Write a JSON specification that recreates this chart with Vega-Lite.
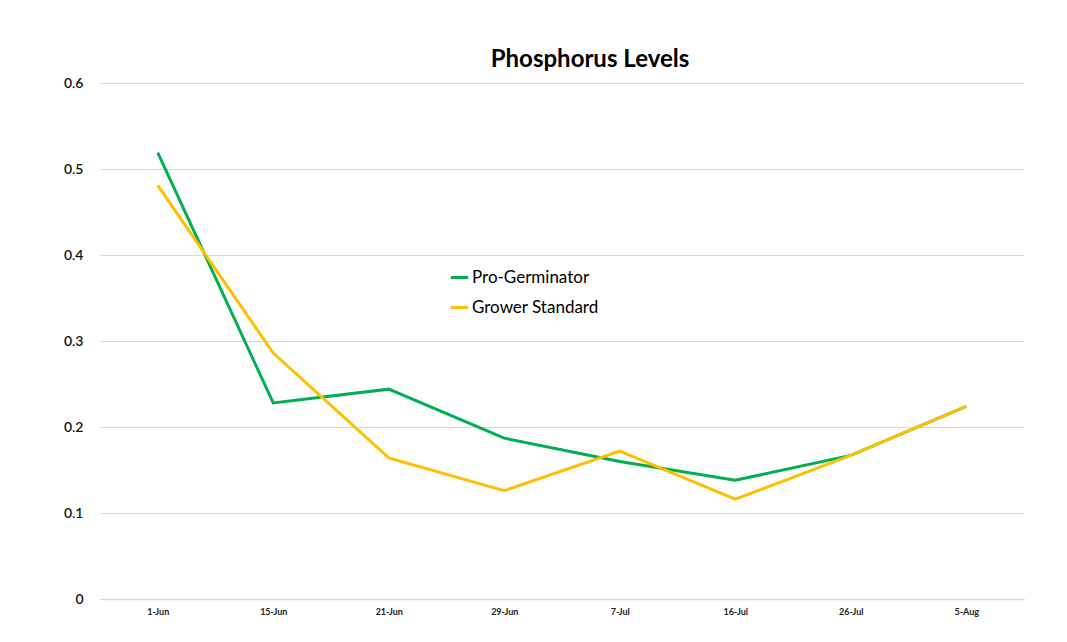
{
  "$schema": "https://vega.github.io/schema/vega-lite/v6.json",
  "width": 924,
  "height": 516,
  "padding": {"left": 63, "top": 48, "right": 42, "bottom": 20},
  "background": "white",
  "title": {
    "text": "Phosphorus Levels",
    "font": "Lato",
    "fontSize": 24,
    "fontWeight": "bold",
    "color": "#000000",
    "anchor": "middle",
    "dx": 28,
    "offset": 4
  },
  "data": {
    "values": [
      {"date": "1-Jun", "series": "Pro-Germinator", "value": 0.519},
      {"date": "15-Jun", "series": "Pro-Germinator", "value": 0.228},
      {"date": "21-Jun", "series": "Pro-Germinator", "value": 0.244},
      {"date": "29-Jun", "series": "Pro-Germinator", "value": 0.187},
      {"date": "7-Jul", "series": "Pro-Germinator", "value": 0.160},
      {"date": "16-Jul", "series": "Pro-Germinator", "value": 0.138},
      {"date": "26-Jul", "series": "Pro-Germinator", "value": 0.167},
      {"date": "5-Aug", "series": "Pro-Germinator", "value": 0.224},
      {"date": "1-Jun", "series": "Grower Standard", "value": 0.481},
      {"date": "15-Jun", "series": "Grower Standard", "value": 0.286},
      {"date": "21-Jun", "series": "Grower Standard", "value": 0.164},
      {"date": "29-Jun", "series": "Grower Standard", "value": 0.126},
      {"date": "7-Jul", "series": "Grower Standard", "value": 0.172},
      {"date": "16-Jul", "series": "Grower Standard", "value": 0.116},
      {"date": "26-Jul", "series": "Grower Standard", "value": 0.167},
      {"date": "5-Aug", "series": "Grower Standard", "value": 0.224}
    ]
  },
  "mark": {"type": "line", "strokeWidth": 3},
  "encoding": {
    "x": {
      "field": "date",
      "type": "ordinal",
      "sort": ["1-Jun", "15-Jun", "21-Jun", "29-Jun", "7-Jul", "16-Jul", "26-Jul", "5-Aug"],
      "scale": {"type": "point", "padding": 0.5},
      "axis": {
        "title": null,
        "labelAngle": 0,
        "labelFont": "Lato",
        "labelFontSize": 9,
        "labelFontWeight": "bold",
        "labelColor": "#222222",
        "labelPadding": 8,
        "ticks": false,
        "domain": true,
        "domainColor": "#d9d9d9",
        "domainWidth": 1.5,
        "grid": false
      }
    },
    "y": {
      "field": "value",
      "type": "quantitative",
      "scale": {"domain": [0, 0.6], "nice": false},
      "axis": {
        "title": null,
        "values": [0, 0.1, 0.2, 0.3, 0.4, 0.5, 0.6],
        "format": "~g",
        "labelFont": "Lato",
        "labelFontSize": 14,
        "labelFontWeight": 600,
        "labelColor": "#111111",
        "labelPadding": 17,
        "ticks": false,
        "domain": false,
        "grid": true,
        "gridColor": "#d9d9d9",
        "gridWidth": 1.2
      }
    },
    "color": {
      "field": "series",
      "type": "nominal",
      "sort": ["Pro-Germinator", "Grower Standard"],
      "scale": {"domain": ["Pro-Germinator", "Grower Standard"], "range": ["#00b050", "#ffc000"]},
      "legend": {
        "title": null,
        "orient": "none",
        "legendX": 349,
        "legendY": 184,
        "symbolType": "stroke",
        "symbolStrokeWidth": 3,
        "symbolSize": 300,
        "labelFont": "Lato",
        "labelFontSize": 17,
        "labelColor": "#000000",
        "labelOffset": 2,
        "rowPadding": 11
      }
    }
  },
  "config": {
    "view": {"stroke": null}
  }
}
